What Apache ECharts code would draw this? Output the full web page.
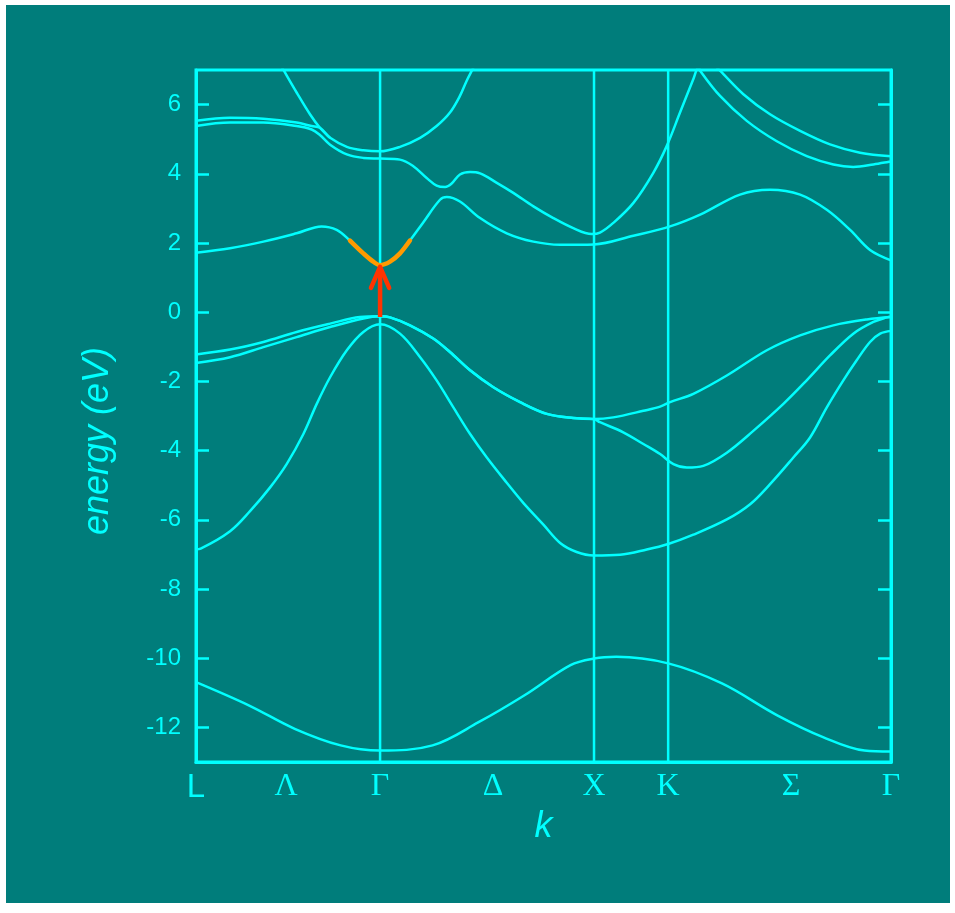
<!DOCTYPE html>
<html>
<head>
<meta charset="utf-8">
<title>GaAs band structure</title>
<script src="https://cdn.jsdelivr.net/npm/echarts@6/dist/echarts.min.js"></script>
<style>
  html, body { margin: 0; padding: 0; background: #ffffff; }
  #chart { width: 955px; height: 913px; }
</style>
</head>
<body>
<div id="chart"></div>
<script>
// Positions of the high-symmetry points along the k path and of the line labels
const symPointsK = [0, 0.869, 1.879, 2.229, 3.281];
const kLabelPos = [0, 0.425, 0.869, 1.402, 1.879, 2.229, 2.809, 3.281];
const kLabelText = ['L', 'Λ', 'Γ', 'Δ', 'X', 'K', 'Σ', 'Γ'];
const energyTicks = [-12, -10, -8, -6, -4, -2, 0, 2, 4, 6];
const energyMin = -13;
const energyMax = 7;

// Energy bands, [k, E (eV)]
const band1 = [[0,-10.69],[0.249,-11.36],[0.466,-12.04],[0.683,-12.52],[0.869,-12.67],[1.117,-12.52],[1.334,-11.85],[1.551,-11.07],[1.768,-10.2],[1.879,-10.01],[1.984,-9.96],[2.229,-10.15],[2.483,-10.73],[2.744,-11.65],[2.960,-12.28],[3.156,-12.67],[3.281,-12.70]];
const band2 = [[0,-6.85],[0.022,-6.83],[0.161,-6.33],[0.255,-5.75],[0.349,-5.07],[0.428,-4.39],[0.507,-3.52],[0.570,-2.65],[0.633,-1.88],[0.712,-1.10],[0.790,-0.57],[0.869,-0.35],[0.963,-0.62],[1.058,-1.30],[1.136,-1.97],[1.215,-2.75],[1.294,-3.52],[1.373,-4.20],[1.467,-4.93],[1.545,-5.51],[1.640,-6.14],[1.719,-6.67],[1.797,-6.93],[1.879,-7.03],[2.002,-7.01],[2.128,-6.86],[2.229,-6.70],[2.348,-6.43],[2.506,-5.99],[2.616,-5.55],[2.710,-4.97],[2.820,-4.20],[2.899,-3.62],[2.978,-2.75],[3.056,-1.97],[3.119,-1.39],[3.182,-0.86],[3.230,-0.62],[3.281,-0.54]];
const band3 = [[0,-1.47],[0.161,-1.30],[0.318,-1.01],[0.475,-0.72],[0.633,-0.43],[0.790,-0.18],[0.869,-0.12],[0.916,-0.15],[1.010,-0.38],[1.120,-0.76],[1.199,-1.15],[1.294,-1.68],[1.404,-2.17],[1.530,-2.60],[1.656,-2.94],[1.781,-3.06],[1.879,-3.09],[1.907,-3.18],[2.017,-3.47],[2.112,-3.81],[2.191,-4.10],[2.254,-4.39],[2.317,-4.49],[2.395,-4.44],[2.506,-4.06],[2.631,-3.43],[2.773,-2.65],[2.883,-1.97],[2.993,-1.25],[3.103,-0.62],[3.198,-0.28],[3.261,-0.15],[3.281,-0.13]];
const band4 = [[0,-1.22],[0.161,-1.08],[0.318,-0.86],[0.475,-0.57],[0.633,-0.33],[0.774,-0.14],[0.869,-0.12],[0.916,-0.15],[1.010,-0.38],[1.120,-0.76],[1.199,-1.15],[1.294,-1.68],[1.404,-2.17],[1.530,-2.60],[1.656,-2.94],[1.781,-3.06],[1.879,-3.09],[1.970,-3.04],[2.112,-2.85],[2.191,-2.73],[2.238,-2.60],[2.348,-2.36],[2.506,-1.83],[2.695,-1.10],[2.852,-0.67],[3.009,-0.38],[3.167,-0.21],[3.281,-0.14]];
const band5 = [[0,1.72],[0.161,1.85],[0.318,2.04],[0.475,2.28],[0.593,2.48],[0.664,2.38],[0.727,2.07],[0.790,1.70],[0.837,1.46],[0.869,1.36],[0.916,1.46],[0.963,1.70],[1.010,2.07],[1.071,2.58],[1.152,3.25],[1.184,3.33],[1.246,3.20],[1.341,2.72],[1.467,2.28],[1.593,2.04],[1.719,1.95],[1.879,1.96],[2.065,2.21],[2.238,2.48],[2.380,2.82],[2.568,3.40],[2.710,3.54],[2.852,3.40],[2.978,2.96],[3.088,2.38],[3.182,1.80],[3.281,1.50]];
const band6 = [[0,5.38],[0.161,5.48],[0.318,5.48],[0.475,5.38],[0.546,5.28],[0.585,5.12],[0.633,4.84],[0.712,4.56],[0.790,4.46],[0.869,4.44],[0.963,4.41],[1.026,4.22],[1.089,3.88],[1.136,3.66],[1.176,3.62],[1.207,3.72],[1.246,3.98],[1.294,4.05],[1.341,4.01],[1.420,3.74],[1.498,3.45],[1.593,3.06],[1.687,2.72],[1.781,2.43],[1.868,2.26],[1.907,2.30],[1.970,2.58],[2.065,3.16],[2.159,4.03],[2.222,4.80],[2.285,5.77],[2.348,6.74],[2.373,7.10],[2.380,6.98],[2.474,6.25],[2.600,5.53],[2.742,4.94],[2.883,4.51],[3.009,4.27],[3.103,4.20],[3.198,4.27],[3.281,4.36]];
const band7 = [[0,5.53],[0.161,5.62],[0.318,5.59],[0.475,5.48],[0.546,5.38],[0.585,5.33],[0.633,5.04],[0.712,4.78],[0.790,4.68],[0.869,4.65],[0.963,4.78],[1.058,5.04],[1.136,5.38],[1.199,5.77],[1.246,6.25],[1.278,6.69],[1.302,6.98],[1.329,7.30]];
const band8 = [[0.385,7.30],[0.415,6.98],[0.475,6.35],[0.538,5.72],[0.585,5.33],[0.633,5.04]];
const band9 = [[2.422,7.30],[2.474,6.98],[2.584,6.30],[2.710,5.72],[2.852,5.24],[2.993,4.85],[3.135,4.61],[3.281,4.51]];

// Conduction-band minimum at Γ and the optical transition arrow
const cbMinimum = [[0.727,2.07],[0.790,1.70],[0.837,1.46],[0.869,1.36],[0.916,1.46],[0.963,1.70],[1.010,2.07]];
const arrowShaft = [[0.869,-0.14],[0.869,1.31]];
const arrowHead = [[0.826,0.70],[0.869,1.31],[0.912,0.70]];

const CYAN = '#00ffff';
const TEAL = '#007d7b';
const SANS = 'Liberation Sans, Arial, sans-serif';
const SMOOTH = 0.35;

const chart = echarts.init(document.getElementById('chart'), null, { renderer: 'canvas' });

const bands = [band1, band2, band3, band4, band5, band6, band7, band8, band9];

const series = [];
// vertical lines at Γ, X and K
symPointsK.slice(1, 4).forEach(function (k) {
  series.push({
    type: 'line', data: [[k, energyMin], [k, energyMax]],
    symbol: 'none', silent: true,
    lineStyle: { color: CYAN, width: 2.5 }, z: 2
  });
});
bands.forEach(function (b) {
  series.push({
    type: 'line', data: b, symbol: 'none', smooth: SMOOTH, silent: true,
    clip: true,
    lineStyle: { color: CYAN, width: 2.5 }, z: 3
  });
});
series.push({
  type: 'line', data: cbMinimum, symbol: 'none', smooth: SMOOTH, silent: true,
  lineStyle: { color: '#ff9a00', width: 4.5, cap: 'round' }, z: 5
});
series.push({
  type: 'line', data: arrowShaft, symbol: 'none', silent: true,
  lineStyle: { color: '#ff3300', width: 4.5 }, z: 6
});
series.push({
  type: 'line', data: arrowHead, symbol: 'none', silent: true,
  lineStyle: { color: '#ff3300', width: 4.5, cap: 'round', join: 'round' }, z: 6
});

const option = {
  backgroundColor: '#ffffff',
  animation: false,
  graphic: [{
    type: 'rect', left: 6, top: 5, z: -10, silent: true,
    shape: { width: 944, height: 898 },
    style: { fill: TEAL }
  }, {
    type: 'text', x: 98, y: 441, rotation: Math.PI / 2, silent: true,
    style: {
      text: 'energy (eV)', fill: CYAN, fontSize: 36, fontStyle: 'italic', fontFamily: SANS,
      textAlign: 'center', textVerticalAlign: 'middle'
    }
  }],
  grid: {
    left: 196, right: 64, top: 70, bottom: 151,
    show: true, borderColor: CYAN, borderWidth: 3, backgroundColor: 'transparent'
  },
  xAxis: {
    type: 'value', min: symPointsK[0], max: symPointsK[4],
    name: 'k', nameLocation: 'middle', nameGap: 45,
    nameTextStyle: { color: CYAN, fontSize: 36, fontStyle: 'italic', fontFamily: SANS },
    axisLine: { show: true, onZero: false, lineStyle: { color: CYAN, width: 3 } },
    axisTick: { show: false },
    splitLine: { show: false },
    axisLabel: {
      customValues: kLabelPos,
      margin: 9,
      formatter: function (v) {
        let i = 0;
        for (let j = 0; j < kLabelPos.length; j++) {
          if (Math.abs(kLabelPos[j] - v) < 1e-6) { i = j; }
        }
        return kLabelText[i] === 'L' ? '{sans|L}' : '{serif|' + kLabelText[i] + '}';
      },
      rich: {
        sans: { color: CYAN, fontSize: 33, fontFamily: SANS },
        serif: { color: CYAN, fontSize: 32, fontFamily: 'Liberation Serif, Times New Roman, serif' }
      }
    }
  },
  yAxis: [{
    type: 'value', min: energyMin, max: energyMax, position: 'left',
    axisLine: { show: true, onZero: false, lineStyle: { color: CYAN, width: 3 } },
    axisTick: { show: true, inside: true, length: 13, customValues: energyTicks, lineStyle: { color: CYAN, width: 2.5 } },
    axisLabel: { customValues: energyTicks, margin: 15, color: CYAN, fontSize: 24, fontFamily: SANS },
    splitLine: { show: false }
  }, {
    type: 'value', min: energyMin, max: energyMax, position: 'right',
    axisLine: { show: true, onZero: false, lineStyle: { color: CYAN, width: 3 } },
    axisTick: { show: true, inside: true, length: 13, customValues: energyTicks, lineStyle: { color: CYAN, width: 2.5 } },
    axisLabel: { show: false },
    splitLine: { show: false }
  }],
  series: series
};

chart.setOption(option);
</script>
</body>
</html>
